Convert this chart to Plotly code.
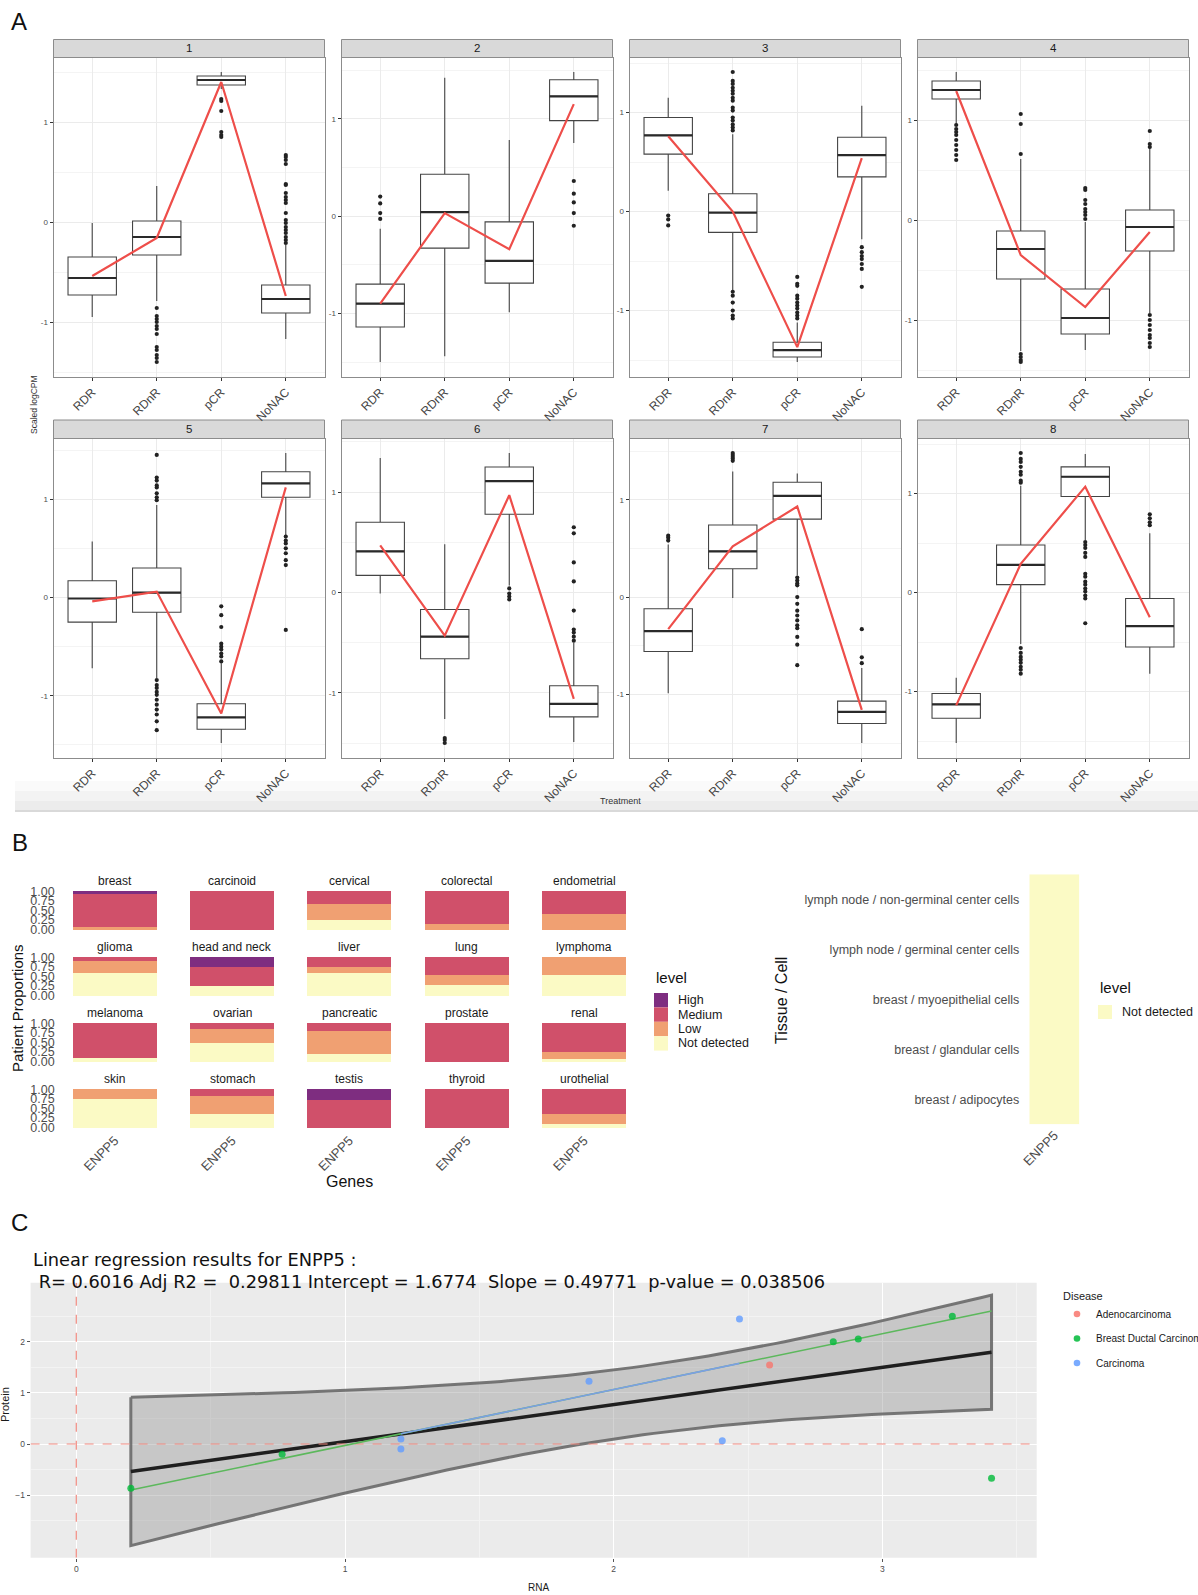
import numpy as np
import plotly.graph_objects as go

W, H = 1198, 1595


def fx(p):
    return p / W


def fy(p):
    return 1 - p / H


SANS = "Liberation Sans, Arial, Helvetica, sans-serif"
DEJAVU = "DejaVu Sans, Verdana, sans-serif"

# ======================= Panel A data =======================
TREATMENTS = ["RDR", "RDnR", "pCR", "NoNAC"]
FACETS_A = ["1", "2", "3", "4", "5", "6", "7", "8"]

A_Q3 = [
    [-0.35, 0.01, 1.46, -0.63],
    [-0.70, 0.43, -0.06, 1.40],
    [0.95, 0.18, -1.32, 0.75],
    [1.39, -0.11, -0.69, 0.10],
    [0.17, 0.30, -1.08, 1.28],
    [0.70, -0.17, 1.25, -0.93],
    [-0.12, 0.74, 1.18, -1.07],
    [-1.02, 0.48, 1.27, -0.06],
]
A_MEDIAN = [
    [-0.56, -0.15, 1.42, -0.77],
    [-0.90, 0.04, -0.46, 1.23],
    [0.77, -0.01, -1.40, 0.57],
    [1.30, -0.29, -0.98, -0.07],
    [-0.01, 0.05, -1.22, 1.16],
    [0.41, -0.44, 1.11, -1.11],
    [-0.35, 0.47, 1.04, -1.18],
    [-1.13, 0.28, 1.17, -0.34],
]
A_Q1 = [
    [-0.73, -0.33, 1.37, -0.91],
    [-1.14, -0.33, -0.69, 0.98],
    [0.58, -0.21, -1.47, 0.35],
    [1.21, -0.59, -1.14, -0.31],
    [-0.25, -0.15, -1.34, 1.02],
    [0.17, -0.66, 0.78, -1.24],
    [-0.56, 0.29, 0.80, -1.30],
    [-1.27, 0.08, 0.97, -0.55],
]
A_UPPER = [
    [-0.01, 0.36, 1.50, -0.23],
    [-0.13, 1.42, 0.78, 1.48],
    [1.15, 0.78, -1.12, 1.07],
    [1.48, 0.61, -0.02, 0.72],
    [0.57, 0.94, -0.67, 1.47],
    [1.34, 0.48, 1.39, -0.50],
    [0.54, 1.29, 1.27, -0.73],
    [-0.86, 1.08, 1.40, 0.60],
]
A_LOWER = [
    [-0.95, -0.79, 1.33, -1.17],
    [-1.50, -1.44, -0.99, 0.75],
    [0.21, -0.80, -1.52, -0.28],
    [0.96, -1.31, -1.30, -0.93],
    [-0.72, -0.82, -1.48, 0.63],
    [-0.01, -1.26, 0.07, -1.49],
    [-0.99, -0.01, 0.22, -1.50],
    [-1.52, -0.52, 0.53, -0.82],
]
A_MEAN = [
    [-0.54, -0.16, 1.40, -0.74],
    [-0.90, 0.03, -0.34, 1.15],
    [0.76, 0.00, -1.37, 0.54],
    [1.29, -0.35, -0.87, -0.12],
    [-0.04, 0.06, -1.18, 1.12],
    [0.47, -0.43, 0.97, -1.06],
    [-0.33, 0.52, 0.93, -1.16],
    [-1.14, 0.29, 1.07, -0.25],
]
A_OUTLIERS = [
    [[],
     [-0.86, -0.94, -0.97, -1.00, -1.04, -1.07, -1.12, -1.25, -1.28, -1.33, -1.36, -1.40],
     [1.23, 1.21, 1.11, 0.90, 0.87, 0.85],
     [0.67, 0.65, 0.62, 0.58, 0.38, 0.37, 0.29, 0.25, 0.22, 0.19, 0.09, 0.02, -0.01,
      -0.05, -0.08, -0.11, -0.15, -0.18, -0.21]],
    [[0.20, 0.13, 0.03, -0.03],
     [],
     [],
     [0.36, 0.23, 0.14, 0.03, -0.10]],
    [[-0.04, -0.08, -0.14],
     [1.41, 1.32, 1.29, 1.25, 1.22, 1.19, 1.15, 1.12, 1.05, 1.02, 0.95, 0.92, 0.88, 0.85,
      0.82, -0.81, -0.85, -0.92, -1.00, -1.05, -1.08],
     [-0.66, -0.73, -0.75, -0.85, -0.88, -0.92, -0.95, -0.98, -1.02, -1.05, -1.08],
     [-0.36, -0.41, -0.45, -0.48, -0.53, -0.58, -0.76]],
    [[0.95, 0.91, 0.88, 0.85, 0.80, 0.75, 0.70, 0.65, 0.60],
     [1.06, 0.96, 0.66, -1.34, -1.37, -1.40, -1.42],
     [0.32, 0.30, 0.20, 0.16, 0.11, 0.08, 0.05, 0.01],
     [0.89, 0.76, 0.73, -0.95, -1.00, -1.05, -1.10, -1.15, -1.18, -1.23, -1.27]],
    [[],
     [1.45, 1.22, 1.19, 1.14, 1.12, 1.06, 1.02, 0.99, -0.84, -0.89, -0.92, -0.96, -0.99,
      -1.04, -1.09, -1.14, -1.19, -1.26, -1.35],
     [-0.09, -0.18, -0.30, -0.47, -0.50, -0.53, -0.57, -0.60, -0.65],
     [0.62, 0.58, 0.55, 0.50, 0.45, 0.38, 0.33, -0.33]],
    [[],
     [-1.45, -1.47, -1.50],
     [0.04, -0.01, -0.04, -0.07],
     [0.65, 0.59, 0.30, 0.11, -0.18, -0.37, -0.40, -0.44, -0.48]],
    [[0.63, 0.61, 0.58],
     [1.48, 1.46, 1.44, 1.42, 1.40],
     [0.20, 0.17, 0.14, 0.12, 0.00, -0.07, -0.14, -0.19, -0.24, -0.29, -0.32, -0.41,
      -0.49, -0.70],
     [-0.33, -0.62, -0.68]],
    [[],
     [1.41, 1.35, 1.32, 1.27, 1.22, 1.19, 1.13, 1.11, -0.56, -0.61, -0.65, -0.68, -0.71,
      -0.75, -0.78, -0.82],
     [0.51, 0.48, 0.45, 0.40, 0.36, 0.19, 0.16, 0.11, 0.08, 0.04, 0.01, -0.03, -0.06, -0.31],
     [0.79, 0.75, 0.71, 0.68]],
]

# ======================= Panel B data =======================
TISSUES = ["breast", "carcinoid", "cervical", "colorectal", "endometrial",
           "glioma", "head and neck", "liver", "lung", "lymphoma",
           "melanoma", "ovarian", "pancreatic", "prostate", "renal",
           "skin", "stomach", "testis", "thyroid", "urothelial"]
B_HIGH = [0.083, 0, 0, 0, 0,
          0, 0.25, 0, 0, 0,
          0, 0, 0, 0, 0,
          0, 0, 0.27, 0, 0]
B_MEDIUM = [0.834, 1.0, 0.333, 0.85, 0.60,
            0.10, 0.50, 0.25, 0.455, 0,
            0.90, 0.16, 0.20, 1.0, 0.75,
            0, 0.18, 0.73, 1.0, 0.636]
B_LOW = [0.083, 0, 0.417, 0.15, 0.40,
         0.30, 0, 0.167, 0.273, 0.45,
         0, 0.34, 0.60, 0, 0.17,
         0.25, 0.455, 0, 0, 0.273]
B_NOT_DETECTED = [0, 0, 0.25, 0, 0,
                  0.60, 0.25, 0.583, 0.272, 0.55,
                  0.10, 0.50, 0.20, 0, 0.08,
                  0.75, 0.365, 0, 0, 0.091]
GENE = "ENPP5"
CELLS = ["breast / adipocytes", "breast / glandular cells", "breast / myoepithelial cells",
         "lymph node / germinal center cells", "lymph node / non-germinal center cells"]
CELL_LEVEL = ["Not detected"] * 5

LEVELS_STACK = ["Not detected", "Low", "Medium", "High"]
LEVEL_COLORS = {"High": "#7E2D80", "Medium": "#D0506A", "Low": "#F0A072",
                "Not detected": "#FBFAC5"}
B_VALUES = {"Not detected": B_NOT_DETECTED, "Low": B_LOW, "Medium": B_MEDIUM, "High": B_HIGH}

# ======================= Panel C data =======================
C_RNA = [0.203, 0.766, 1.208, 1.208, 1.908, 2.404, 2.468, 2.580, 2.817, 2.910, 3.260, 3.406]
C_PROTEIN = [-0.867, -0.20, 0.098, -0.098, 1.227, 0.065, 2.446, 1.546, 2.003, 2.055, 2.50, -0.672]
C_DISEASE = ["Breast Ductal Carcinoma", "Breast Ductal Carcinoma", "Carcinoma", "Carcinoma",
             "Carcinoma", "Carcinoma", "Carcinoma", "Adenocarcinoma",
             "Breast Ductal Carcinoma", "Breast Ductal Carcinoma", "Breast Ductal Carcinoma",
             "Breast Ductal Carcinoma"]
DISEASES = ["Adenocarcinoma", "Breast Ductal Carcinoma", "Carcinoma"]
DISEASE_COLORS = {"Adenocarcinoma": "#F8766D", "Breast Ductal Carcinoma": "#00BA38",
                  "Carcinoma": "#619CFF"}
GROUP_LINE_COLORS = {"Breast Ductal Carcinoma": "#5CB85C", "Carcinoma": "#7C9FE4"}
# per-group fitted line
C_GROUP_FIT_INTERCEPT = -1.122
C_GROUP_FIT_SLOPE = 1.094
T_975_DF10 = 2.228
C_TITLE_1 = "Linear regression results for ENPP5 :"
C_TITLE_2 = "\u00a0R= 0.6016 Adj R2 = \u00a00.29811 Intercept = 1.6774 \u00a0Slope = 0.49771 \u00a0p-value = 0.038506"


def axn(n):
    if n == 1:
        return "x", "y", "xaxis", "yaxis"
    return f"x{n}", f"y{n}", f"xaxis{n}", f"yaxis{n}"


fig = go.Figure()
layout = {}
shapes = []
annotations = []


def text(x, y, s, size, color="#1a1a1a", xanchor="center", yanchor="middle", angle=0,
         family=SANS):
    annotations.append(dict(x=fx(x), y=fy(y), xref="paper", yref="paper", text=s,
                            showarrow=False, xanchor=xanchor, yanchor=yanchor,
                            textangle=angle, font=dict(size=size, color=color, family=family)))


def rect(x0, y0, x1, y1, fill, line_color=None, line_width=0, layer="below"):
    shapes.append(dict(type="rect", xref="paper", yref="paper", x0=fx(x0), x1=fx(x1),
                       y0=fy(y1), y1=fy(y0), fillcolor=fill, layer=layer,
                       line=dict(color=line_color or fill, width=line_width)))


# ======================= Panel A =======================
XPOS = [0, 1, 2, 3]
A_LEFTS = [53.5, 341.5, 629.5, 917.5]
A_WIDTH = 271.0
A_ROWS = [(39.5, 57.5, 376.5), (420.0, 438.5, 757.5)]
BOX_W = 0.75
MEAN_RED = "#EE4E4A"

# light band at bottom of panel A
rect(15, 781, 1198, 791, "#FAFAFA")
rect(15, 791, 1198, 801, "#F3F3F3")
rect(15, 801, 1198, 810, "#ECECEC")
rect(15, 810, 1198, 812, "#D9D9D9")

for i in range(8):
    n = i + 1
    tx, ty, lx, ly = axn(n)
    r, c = divmod(i, 4)
    left = A_LEFTS[c]
    s_top, p_top, p_bot = A_ROWS[r]

    fig.add_trace(go.Box(
        x=XPOS, q1=A_Q1[i], median=A_MEDIAN[i], q3=A_Q3[i],
        lowerfence=A_LOWER[i], upperfence=A_UPPER[i],
        width=BOX_W, whiskerwidth=0, boxpoints=False,
        fillcolor="white", line=dict(color="#444444", width=1.1),
        xaxis=tx, yaxis=ty, showlegend=False, hoverinfo="skip"))

    mx, my = [], []
    for p, m in zip(XPOS, A_MEDIAN[i]):
        mx += [p - BOX_W / 2, p + BOX_W / 2, None]
        my += [m, m, None]
    fig.add_trace(go.Scatter(x=mx, y=my, mode="lines", line=dict(color="#2a2a2a", width=2.2),
                             xaxis=tx, yaxis=ty, showlegend=False, hoverinfo="skip"))

    ox, oy = [], []
    for p, vals in zip(XPOS, A_OUTLIERS[i]):
        ox += [p] * len(vals)
        oy += vals
    fig.add_trace(go.Scatter(x=ox, y=oy, mode="markers",
                             marker=dict(color="#222222", size=4.2, line=dict(width=0)),
                             xaxis=tx, yaxis=ty, showlegend=False, hoverinfo="skip"))

    fig.add_trace(go.Scatter(x=XPOS, y=A_MEAN[i], mode="lines",
                             line=dict(color=MEAN_RED, width=2.2),
                             xaxis=tx, yaxis=ty, showlegend=False, hoverinfo="skip"))

    allv = A_LOWER[i] + A_UPPER[i] + sum(A_OUTLIERS[i], []) + A_MEAN[i]
    vmin, vmax = min(allv), max(allv)
    pad = 0.05 * (vmax - vmin)

    layout[lx] = dict(domain=[fx(left), fx(left + A_WIDTH)], anchor=ty, range=[-0.6, 3.6],
                      automargin=False,
                      tickmode="array", tickvals=XPOS, ticktext=TREATMENTS, tickangle=-45,
                      tickfont=dict(size=12, color="#444444"), ticks="outside", ticklen=3,
                      tickcolor="#333333", tickwidth=0.8, showgrid=True, gridcolor="#EBEBEB",
                      gridwidth=1, zeroline=False, showline=True, linecolor="#8c8c8c",
                      linewidth=1, mirror=True)
    layout[ly] = dict(domain=[fy(p_bot), fy(p_top)], anchor=tx, range=[vmin - pad, vmax + pad],
                      automargin=False,
                      tickmode="array", tickvals=[-1, 0, 1], ticktext=["-1", "0", "1"],
                      tickfont=dict(size=8, color="#4d4d4d"), ticks="outside", ticklen=3,
                      tickcolor="#333333", tickwidth=0.8, showgrid=True, gridcolor="#EBEBEB",
                      gridwidth=1, zeroline=False, showline=True, linecolor="#8c8c8c",
                      linewidth=1, mirror=True,
                      minor=dict(tickvals=[-1.5, -0.5, 0.5, 1.5], showgrid=True,
                                 gridcolor="#F4F4F4", gridwidth=0.6, ticks=""))
    rect(left, s_top, left + A_WIDTH, p_top, "#D9D9D9", "#8c8c8c", 1)
    text(left + A_WIDTH / 2, (s_top + p_top) / 2, FACETS_A[i], 11.5)

text(19, 21, "A", 24, color="#111111")
text(34, 405, "Scaled logCPM", 8.5, angle=-90, color="#333333")
text(620, 801, "Treatment", 9, color="#333333")

# ======================= Panel B (left) =======================
B_CENTERS = [114.7 + 117.35 * k for k in range(5)]
B_HALF = 56.0
B_BAR_TOP = [891.3 + 66.0 * r for r in range(4)]
B_BAR_H = 38.4

for k, tissue in enumerate(TISSUES):
    n = 9 + k
    tx, ty, lx, ly = axn(n)
    r, c = divmod(k, 5)
    cx = B_CENTERS[c]
    top = B_BAR_TOP[r] - 0.05 * B_BAR_H
    bot = B_BAR_TOP[r] + 1.05 * B_BAR_H
    for lev in LEVELS_STACK:
        fig.add_trace(go.Bar(x=[GENE], y=[B_VALUES[lev][k]], width=0.9,
                             marker=dict(color=LEVEL_COLORS[lev], line=dict(width=0)),
                             xaxis=tx, yaxis=ty, showlegend=False, hoverinfo="skip"))
    layout[lx] = dict(domain=[fx(cx - B_HALF), fx(cx + B_HALF)], anchor=ty, type="category",
                      automargin=False,
                      range=[-0.6, 0.6], showticklabels=(r == 3), tickangle=-45,
                      tickfont=dict(size=13, color="#4d4d4d"), ticks="", showgrid=False,
                      zeroline=False, showline=False)
    layout[ly] = dict(domain=[fy(bot), fy(top)], anchor=tx, range=[-0.05, 1.05],
                      automargin=False,
                      tickmode="array", tickvals=[0, 0.25, 0.5, 0.75, 1.0],
                      ticktext=["0.00", "0.25", "0.50", "0.75", "1.00"],
                      showticklabels=(c == 0), tickfont=dict(size=12.5, color="#4d4d4d"),
                      ticks="", ticklabelstandoff=3, showgrid=False, zeroline=False,
                      showline=False)
    text(cx, B_BAR_TOP[r] - 10, tissue, 12)

text(20, 842, "B", 24, color="#111111")
text(17, 1008, "Patient Proportions", 15, angle=-90, color="#111111")
text(349, 1181, "Genes", 16, color="#111111")

# legend (level)
text(654, 977, "level", 15, xanchor="left", color="#111111")
for j, lev in enumerate(["High", "Medium", "Low", "Not detected"]):
    y0 = 993 + 14.4 * j
    rect(654, y0, 668, y0 + 14.4, LEVEL_COLORS[lev], layer="above")
    text(676, y0 + 7.2, lev, 12.5, xanchor="left", color="#1a1a1a")

# ======================= Panel B (right) =======================
n = 29
tx, ty, lx, ly = axn(n)
fig.add_trace(go.Heatmap(z=[[1] for _ in CELLS], x=[GENE], y=CELLS,
                         colorscale=[[0, LEVEL_COLORS[CELL_LEVEL[0]]],
                                     [1, LEVEL_COLORS[CELL_LEVEL[0]]]],
                         showscale=False, xaxis=tx, yaxis=ty, hoverinfo="skip"))
layout[lx] = dict(domain=[fx(1029.3), fx(1079.3)], anchor=ty, type="category",
                  automargin=False,
                  range=[-0.5, 0.5], tickangle=-45, tickfont=dict(size=13, color="#4d4d4d"),
                  ticks="", showgrid=False, zeroline=False, showline=False)
layout[ly] = dict(domain=[fy(1124.3), fy(874.3)], anchor=tx, type="category",
                  automargin=False,
                  range=[-0.5, 4.5], tickfont=dict(size=12.5, color="#4d4d4d"), ticks="",
                  ticklabelstandoff=9, showgrid=False, zeroline=False, showline=False)
text(781, 1000, "Tissue / Cell", 16, angle=-90, color="#111111")
text(1098, 988, "level", 15, xanchor="left", color="#111111")
rect(1098, 1005, 1112, 1019, LEVEL_COLORS["Not detected"], layer="above")
text(1120, 1012, "Not detected", 12.5, xanchor="left", color="#1a1a1a")

# ======================= Panel C =======================
n = 30
tx, ty, lx, ly = axn(n)
CX0, CX1, CY0, CY1 = 30.6, 1036.7, 1282.7, 1557.7
C_XRANGE = [-0.170, 3.574]
C_YRANGE = [-2.225, 3.157]
rect(CX0, CY0, CX1, CY1, "#EBEBEB")

xr = np.array(C_RNA)
yr = np.array(C_PROTEIN)
nn = len(xr)
b1, b0 = np.polyfit(xr, yr, 1)
resid = yr - (b0 + b1 * xr)
s_err = np.sqrt(np.sum(resid ** 2) / (nn - 2))
xs = np.linspace(xr.min(), xr.max(), 80)
fit = b0 + b1 * xs
se = s_err * np.sqrt(1.0 / nn + (xs - xr.mean()) ** 2 / np.sum((xr - xr.mean()) ** 2))
upper = fit + T_975_DF10 * se
lower = fit - T_975_DF10 * se

fig.add_trace(go.Scatter(x=np.concatenate([xs, xs[::-1], xs[:1]]),
                         y=np.concatenate([upper, lower[::-1], upper[:1]]),
                         mode="lines", fill="toself", fillcolor="rgba(150,150,150,0.42)",
                         line=dict(color="rgba(105,105,105,0.9)", width=3),
                         xaxis=tx, yaxis=ty, showlegend=False, hoverinfo="skip"))
fig.add_trace(go.Scatter(x=xs, y=fit, mode="lines", line=dict(color="#1f1f1f", width=3.5),
                         xaxis=tx, yaxis=ty, showlegend=False, hoverinfo="skip"))
# dashed reference lines
fig.add_trace(go.Scatter(x=C_XRANGE, y=[0, 0], mode="lines",
                         line=dict(color="#F28A80", width=1.2, dash="dash"),
                         xaxis=tx, yaxis=ty, showlegend=False, hoverinfo="skip"))
fig.add_trace(go.Scatter(x=[0, 0], y=C_YRANGE, mode="lines",
                         line=dict(color="#F28A80", width=1.2, dash="dash"),
                         xaxis=tx, yaxis=ty, showlegend=False, hoverinfo="skip"))
# group fitted lines
for dis in ["Breast Ductal Carcinoma", "Carcinoma"]:
    gx = sorted(x for x, d in zip(C_RNA, C_DISEASE) if d == dis)
    if len(gx) < 2:
        continue
    gy = [C_GROUP_FIT_INTERCEPT + C_GROUP_FIT_SLOPE * v for v in gx]
    fig.add_trace(go.Scatter(x=gx, y=gy, mode="lines",
                             line=dict(color=GROUP_LINE_COLORS[dis], width=1.6),
                             xaxis=tx, yaxis=ty, showlegend=False, hoverinfo="skip"))
for dis in DISEASES:
    px_ = [x for x, d in zip(C_RNA, C_DISEASE) if d == dis]
    py_ = [y for y, d in zip(C_PROTEIN, C_DISEASE) if d == dis]
    fig.add_trace(go.Scatter(x=px_, y=py_, mode="markers",
                             marker=dict(color=DISEASE_COLORS[dis], size=7, opacity=0.8,
                                         line=dict(width=0)),
                             xaxis=tx, yaxis=ty, showlegend=False, hoverinfo="skip"))

layout[lx] = dict(domain=[fx(CX0), fx(CX1)], anchor=ty, range=C_XRANGE, tickmode="array",
                  automargin=False,
                  tickvals=[0, 1, 2, 3], tickfont=dict(size=8.5, color="#4d4d4d"),
                  ticks="outside", ticklen=3, tickcolor="#555555", tickwidth=0.8,
                  showgrid=True, gridcolor="white", gridwidth=1.3, zeroline=False,
                  showline=False,
                  minor=dict(tickvals=[0.5, 1.5, 2.5, 3.5], showgrid=True,
                             gridcolor="#F3F3F3", gridwidth=0.6, ticks=""))
layout[ly] = dict(domain=[fy(CY1), fy(CY0)], anchor=tx, range=C_YRANGE, tickmode="array",
                  automargin=False,
                  tickvals=[-1, 0, 1, 2], tickfont=dict(size=8.5, color="#4d4d4d"),
                  ticks="outside", ticklen=3, tickcolor="#555555", tickwidth=0.8,
                  showgrid=True, gridcolor="white", gridwidth=1.3, zeroline=False,
                  showline=False,
                  minor=dict(tickvals=[-1.5, -0.5, 0.5, 1.5, 2.5], showgrid=True,
                             gridcolor="#F3F3F3", gridwidth=0.6, ticks=""))

text(19, 1222, "C", 24, color="#111111")
text(30.6, 1259, C_TITLE_1, 17.8, xanchor="left", color="#111111", family=DEJAVU)
text(30.6, 1281, C_TITLE_2, 17.8, xanchor="left", color="#111111", family=DEJAVU)
text(538, 1587, "RNA", 10, color="#1a1a1a")
text(5, 1405, "Protein", 11, angle=-90, color="#1a1a1a")

text(1061, 1296, "Disease", 11, xanchor="left", color="#1a1a1a")
for j, dis in enumerate(DISEASES):
    yy = 1314 + 24.5 * j
    shapes.append(dict(type="circle", xref="paper", yref="paper",
                       x0=fx(1077 - 3.3), x1=fx(1077 + 3.3), y0=fy(yy + 3.3), y1=fy(yy - 3.3),
                       fillcolor=DISEASE_COLORS[dis], opacity=0.85, line=dict(width=0)))
    text(1094, yy, dis, 10, xanchor="left", color="#1a1a1a")

fig.update_layout(width=W, height=H, margin=dict(l=0, r=0, t=0, b=0, autoexpand=False),
                  paper_bgcolor="white", plot_bgcolor="white", showlegend=False,
                  barmode="stack", font=dict(family=SANS), shapes=shapes,
                  annotations=annotations, **layout)

fig.write_html("out.html", config={"displayModeBar": False},
               post_script="document.body.style.margin='0';document.body.style.overflow='hidden';")
